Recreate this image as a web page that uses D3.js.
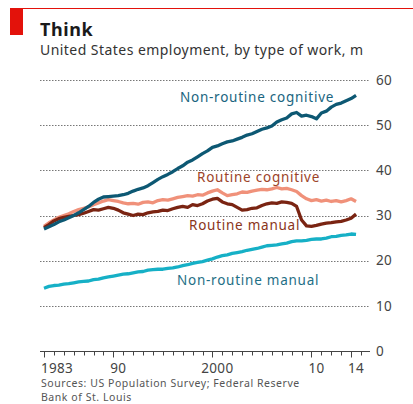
<!DOCTYPE html>
<html>
<head>
<meta charset="utf-8">
<script src="https://cdn.jsdelivr.net/npm/d3@7.9.0/dist/d3.min.js"></script>
<style>
  html, body { margin: 0; padding: 0; background: #fff; }
  svg { display: block; font-family: "Noto Sans", "Open Sans", sans-serif; }
</style>
</head>
<body>
<svg id="chart" width="413" height="404"></svg>
<script>
// half-year steps, 1983.0 ... 2014.5
const periods = d3.range(1983, 2015, 0.5);

const nonRoutineCognitive = [
  27.0, 27.5, 28.0, 28.6, 29.0, 29.5, 30.0, 30.6, 31.3, 32.0, 32.9, 33.6, 34.1, 34.2, 34.3, 34.4,
  34.6, 34.9, 35.4, 35.8, 36.1, 36.6, 37.3, 38.0, 38.6, 39.1, 39.7, 40.4, 41.0, 41.8, 42.3, 43.0,
  43.7, 44.3, 45.1, 45.4, 45.9, 46.3, 46.5, 46.9, 47.3, 47.8, 48.1, 48.6, 49.1, 49.4, 49.8, 50.7,
  51.2, 51.6, 52.5, 52.8, 52.0, 52.2, 51.9, 51.4, 52.7, 53.1, 54.0, 54.6, 54.9, 55.4, 55.9, 56.6
];
const routineCognitive = [
  27.6, 28.4, 29.0, 29.6, 30.0, 30.4, 30.9, 31.3, 31.6, 31.9, 32.4, 32.8, 33.2, 33.5, 33.3, 33.1,
  32.8, 32.6, 32.7, 32.5, 32.9, 33.0, 32.8, 33.3, 33.5, 33.4, 33.7, 34.0, 34.2, 34.4, 34.3, 34.6,
  34.5, 35.0, 35.4, 35.7, 35.0, 34.4, 34.6, 34.8, 35.2, 35.1, 35.4, 35.6, 35.8, 35.7, 35.9, 36.2,
  35.9, 36.0, 35.7, 35.3, 34.4, 33.7, 33.3, 33.5, 33.2, 33.4, 33.1, 33.3, 33.0, 33.3, 33.7, 33.1
];
const routineManual = [
  27.3, 28.0, 28.8, 29.3, 29.6, 29.8, 30.0, 30.2, 30.5, 30.9, 31.3, 31.2, 31.5, 31.8, 31.6, 31.2,
  30.6, 30.3, 30.0, 30.3, 30.2, 30.6, 30.8, 30.9, 31.2, 31.1, 31.5, 31.8, 32.0, 31.8, 32.4, 32.2,
  32.6, 33.2, 33.6, 33.8, 33.0, 32.6, 32.4, 31.8, 31.2, 31.3, 31.6, 31.7, 32.2, 32.6, 32.8, 32.7,
  33.0, 32.9, 32.7, 32.0, 29.0, 27.7, 27.6, 27.8, 28.1, 28.3, 28.4, 28.6, 28.7, 29.0, 29.4, 30.3
];
const nonRoutineManual = [
  13.9, 14.3, 14.5, 14.6, 14.8, 14.9, 15.1, 15.3, 15.4, 15.5, 15.8, 15.9, 16.2, 16.4, 16.6, 16.8,
  17.0, 17.1, 17.3, 17.5, 17.6, 17.9, 18.0, 18.1, 18.1, 18.3, 18.4, 18.6, 18.9, 19.1, 19.4, 19.6,
  19.8, 20.1, 20.4, 20.8, 21.1, 21.3, 21.6, 21.8, 22.0, 22.3, 22.5, 22.7, 23.0, 23.3, 23.4, 23.5,
  23.7, 23.9, 24.2, 24.4, 24.4, 24.5, 24.7, 24.8, 24.8, 25.0, 25.3, 25.4, 25.6, 25.7, 25.9, 25.8
];

const yTicks = [0, 10, 20, 30, 40, 50, 60];
const xLabels = [[1983, '1983'], [1990, '90'], [2000, '2000'], [2010, '10'], [2014, '14']];

const series = [
  { name: 'Non-routine cognitive', values: nonRoutineCognitive, color: '#0d5873', text: '#1a6580', lx: 180, ly: 102 },
  { name: 'Routine cognitive', values: routineCognitive, color: '#f0917a', text: '#9c4329', lx: 197, ly: 182 },
  { name: 'Routine manual', values: routineManual, color: '#7a2412', text: '#8a3520', lx: 189, ly: 230 },
  { name: 'Non-routine manual', values: nonRoutineManual, color: '#16b0c6', text: '#1f6f86', lx: 177, ly: 285 }
];

const svg = d3.select('#chart');

const x = d3.scaleLinear().domain([1983, 2015]).range([44, 361]);
const y = d3.scaleLinear().domain([0, 60]).range([351, 80]);

// header
svg.append('line').attr('x1', 10).attr('x2', 413).attr('y1', 8.5).attr('y2', 8.5)
  .attr('stroke', '#e3120b').attr('stroke-width', 1);
svg.append('rect').attr('x', 10).attr('y', 8).attr('width', 13).attr('height', 27).attr('fill', '#e3120b');
svg.append('text').attr('x', 40).attr('y', 36).text('Think')
  .attr('font-size', 18).attr('font-weight', 700).attr('letter-spacing', 0.6).attr('fill', '#1a1a1a');
svg.append('text').attr('x', 40).attr('y', 55).text('United States employment, by type of work, m')
  .attr('font-size', 14).attr('letter-spacing', 0.45).attr('fill', '#333');

// grid
const grid = svg.append('g');
yTicks.filter(d => d > 0).forEach(d => {
  grid.append('line')
    .attr('x1', 40).attr('x2', 370)
    .attr('y1', Math.round(y(d)) + 0.5).attr('y2', Math.round(y(d)) + 0.5)
    .attr('stroke', '#777').attr('stroke-width', 1).attr('stroke-dasharray', '1.5,1.5');
});
yTicks.forEach(d => {
  grid.append('text').attr('x', 376).attr('y', y(d)).attr('dy', '0.35em')
    .attr('font-size', 13.5).attr('letter-spacing', 0.3).attr('fill', '#444').text(d);
});

// x axis
const axis = svg.append('g').attr('transform', `translate(0,${Math.round(y(0)) + 0.5})`);
axis.append('line').attr('x1', 40).attr('x2', 370).attr('stroke', '#444').attr('stroke-width', 1);
d3.range(1983, 2016).forEach(yr => {
  const big = xLabels.some(l => l[0] === yr);
  axis.append('line')
    .attr('x1', Math.round(x(yr)) + 0.5).attr('x2', Math.round(x(yr)) + 0.5)
    .attr('y1', 0).attr('y2', big ? 6 : 4)
    .attr('stroke', '#444').attr('stroke-width', 1);
});
xLabels.forEach(([yr, lbl], i) => {
  axis.append('text')
    .attr('x', i === 0 ? 41 : x(yr + 0.5))
    .attr('y', 21)
    .attr('text-anchor', i === 0 ? 'start' : 'middle')
    .attr('font-size', 13.5).attr('letter-spacing', 0.3).attr('fill', '#444').text(lbl);
});

// lines
const line = d3.line()
  .x((d, i) => x(periods[i]))
  .y(d => y(d));

[series[1], series[2], series[3], series[0]].forEach(s => {
  svg.append('path')
    .attr('d', line(s.values))
    .attr('fill', 'none')
    .attr('stroke', s.color)
    .attr('stroke-width', 3.3)
    .attr('stroke-linejoin', 'round');
});

series.forEach(s => {
  svg.append('text').attr('x', s.lx).attr('y', s.ly)
    .attr('font-size', 13.5).attr('letter-spacing', 0.75).attr('fill', s.text).text(s.name);
});

// source
svg.append('text').attr('x', 41).attr('y', 387).attr('font-size', 10.5).attr('letter-spacing', 0.55).attr('fill', '#555')
  .text('Sources: US Population Survey; Federal Reserve');
svg.append('text').attr('x', 41).attr('y', 401).attr('font-size', 10.5).attr('letter-spacing', 0.55).attr('fill', '#555')
  .text('Bank of St. Louis');
</script>
</body>
</html>
